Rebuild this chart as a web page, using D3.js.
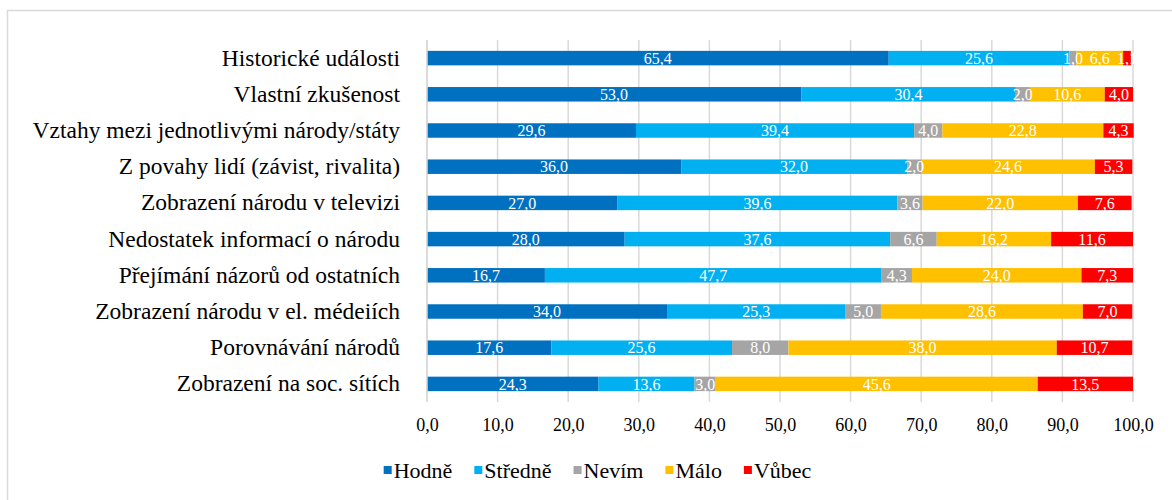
<!DOCTYPE html>
<html>
<head>
<meta charset="utf-8">
<script src="https://cdn.jsdelivr.net/npm/d3@7"></script>
<style>
  body { margin: 0; background: #fff; }
  svg text { font-family: "Liberation Serif", "DejaVu Serif", "Times New Roman", serif !important; }
</style>
</head>
<body>
<svg id="chart" width="1172" height="500"></svg>
<script>
var categories = [
  "Historické události",
  "Vlastní zkušenost",
  "Vztahy mezi jednotlivými národy/státy",
  "Z povahy lidí (závist, rivalita)",
  "Zobrazení národu v televizi",
  "Nedostatek informací o národu",
  "Přejímání názorů od ostatních",
  "Zobrazení národu v el. médeiích",
  "Porovnávání národů",
  "Zobrazení na soc. sítích"
];
var seriesNames = ["Hodně", "Středně", "Nevím", "Málo", "Vůbec"];
var hodne   = [65.4, 53.0, 29.6, 36.0, 27.0, 28.0, 16.7, 34.0, 17.6, 24.3];
var stredne = [25.6, 30.4, 39.4, 32.0, 39.6, 37.6, 47.7, 25.3, 25.6, 13.6];
var nevim   = [1.0, 2.0, 4.0, 2.0, 3.6, 6.6, 4.3, 5.0, 8.0, 3.0];
var malo    = [6.6, 10.6, 22.8, 24.6, 22.0, 16.2, 24.0, 28.6, 38.0, 45.6];
var vubec   = [1.1, 4.0, 4.3, 5.3, 7.6, 11.6, 7.3, 7.0, 10.7, 13.5];
var xTicks  = [0, 10, 20, 30, 40, 50, 60, 70, 80, 90, 100];
var colors  = ["#0070C0", "#00B0F0", "#A5A5A5", "#FFC000", "#FF0000"];

var series = [hodne, stredne, nevim, malo, vubec];
var fmt = function(v){ return v.toFixed(1).replace(".", ","); };
var serif = "'Liberation Serif', 'DejaVu Serif', 'Times New Roman', serif";

var svg = d3.select("#chart");

// chart frame (only top/left edges fall inside the picture)
svg.append("rect")
  .attr("x", 7.5).attr("y", 10.5)
  .attr("width", 1200).attr("height", 600)
  .attr("fill", "none").attr("stroke", "#d9d9d9").attr("stroke-width", 1.5);

var x = d3.scaleLinear().domain([0, 100]).range([427, 1133]);
var y = d3.scaleBand().domain(categories).range([40, 402]).paddingInner(0.6).paddingOuter(0.3);

// gridlines
svg.append("g").selectAll("line")
  .data(xTicks)
  .enter().append("line")
  .attr("x1", function(d){ return x(d); })
  .attr("x2", function(d){ return x(d); })
  .attr("y1", 40).attr("y2", 402)
  .attr("stroke", "#d9d9d9").attr("stroke-width", 1.5);

// stacked data
var rows = categories.map(function(c, i){
  var start = 0;
  return series.map(function(s, j){
    var seg = { cat: c, k: j, v: s[i], x0: start, x1: start + s[i] };
    start += s[i];
    return seg;
  });
});
var segs = [].concat.apply([], rows);

svg.append("g").selectAll("rect")
  .data(segs)
  .enter().append("rect")
  .attr("x", function(d){ return x(d.x0); })
  .attr("width", function(d){ return x(d.x1) - x(d.x0); })
  .attr("y", function(d){ return y(d.cat); })
  .attr("height", y.bandwidth())
  .attr("fill", function(d){ return colors[d.k]; });

svg.append("g").selectAll("text")
  .data(segs)
  .enter().append("text")
  .attr("x", function(d){ return x((d.x0 + d.x1) / 2); })
  .attr("y", function(d){ return y(d.cat) + y.bandwidth() / 2; })
  .attr("dy", "0.36em")
  .attr("text-anchor", "middle")
  .attr("fill", "#fff")
  .attr("font-family", serif)
  .attr("font-size", 16)
  .text(function(d){ return fmt(d.v); });

// category axis
var yAxis = svg.append("g")
  .attr("transform", "translate(427,0)")
  .call(d3.axisLeft(y).tickSize(0).tickPadding(27));
yAxis.attr("font-family", serif);
yAxis.select(".domain").attr("stroke", "#d9d9d9").attr("stroke-width", 1.5)
  .attr("d", "M0,40V402");
yAxis.selectAll("text")
  .attr("font-size", 23.5).attr("fill", "#000");

// value axis
var xAxis = svg.append("g")
  .attr("transform", "translate(0,402)")
  .call(d3.axisBottom(x).tickValues(xTicks).tickSize(0).tickPadding(16).tickFormat(fmt));
xAxis.attr("font-family", serif);
xAxis.select(".domain").remove();
xAxis.selectAll("text")
  .attr("font-size", 18).attr("fill", "#000");

// legend, centred under the chart
var legend = svg.append("g").attr("font-family", serif);
var lx = 0;
seriesNames.forEach(function(name, i){
  legend.append("rect")
    .attr("x", lx).attr("y", 466)
    .attr("width", 8).attr("height", 8)
    .attr("fill", colors[i]);
  var t = legend.append("text")
    .attr("x", lx + 10).attr("y", 470)
    .attr("dy", "0.36em")
    .attr("font-size", 22)
    .attr("fill", "#000")
    .text(name);
  lx += 10 + t.node().getComputedTextLength() + 22;
});
var legendWidth = lx - 22;
legend.attr("transform", "translate(" + (597.5 - legendWidth / 2) + ",0)");
</script>
</body>
</html>
